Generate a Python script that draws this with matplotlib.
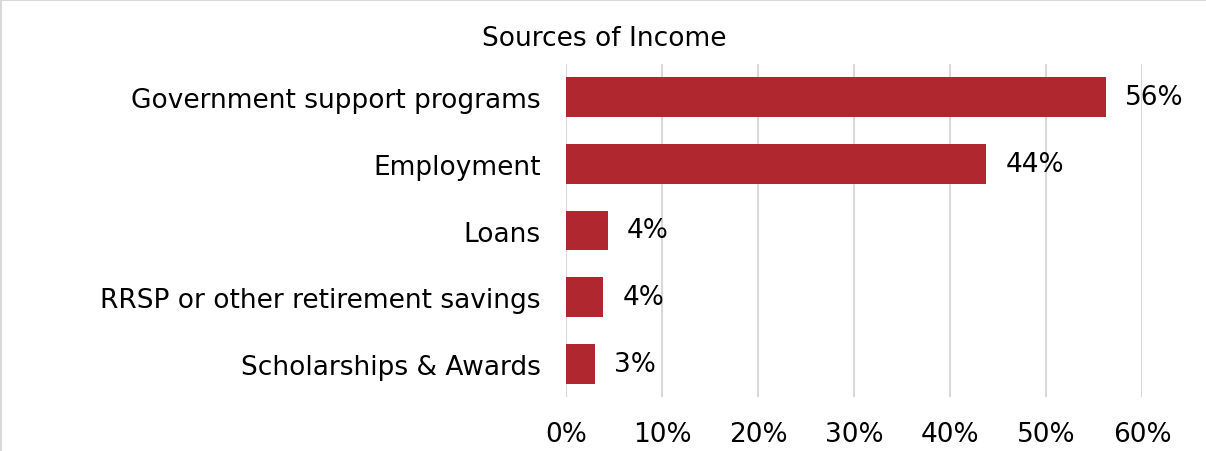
import matplotlib.pyplot as plt
from matplotlib.lines import Line2D

plt.rcParams['font.family'] = ['DejaVu Sans']

categories = ["Government support programs", "Employment", "Loans",
              "RRSP or other retirement savings", "Scholarships & Awards"]
shares = [56.3, 43.8, 4.4, 3.9, 3.0]
x_ticks = [0, 10, 20, 30, 40, 50, 60]

bar_color = "#b0272f"
grid_color = "#d9d9d9"
fs = 19

fig = plt.figure(figsize=(12.06, 4.52), dpi=100)
ax = fig.add_axes([566 / 1206, 1 - 398 / 452, 576 / 1206, 333 / 452])

pos = list(range(len(categories)))
ax.barh(pos, shares, height=0.6, color=bar_color, zorder=3)
for p, v in zip(pos, shares):
    ax.annotate(f"{v:.0f}%", (v, p), xytext=(13.5, 0), textcoords="offset points",
                va="center", ha="left", fontsize=fs, color="black")

ax.set_yticks(pos)
ax.set_yticklabels(categories, fontsize=fs)
ax.set_ylim(len(categories) - 0.5, -0.5)
ax.set_xlim(0, 60)
ax.set_xticks(x_ticks)
ax.set_xticklabels([f"{t}%" for t in x_ticks], fontsize=fs)
ax.tick_params(axis="y", length=0, pad=18)
ax.tick_params(axis="x", length=0, pad=17)
ax.grid(axis="x", color=grid_color, linewidth=1.5, zorder=0)
for s in ax.spines.values():
    s.set_visible(False)

fig.text(604 / 1206, 1 - 39 / 452, "Sources of Income", ha="center", va="center", fontsize=fs)

# thin frame along the top and left edges
fig.add_artist(Line2D([0.001, 0.001], [0, 0.998], transform=fig.transFigure,
                      color=grid_color, linewidth=1.5))
fig.add_artist(Line2D([0, 1], [0.997, 0.997], transform=fig.transFigure,
                      color=grid_color, linewidth=1.5))

fig.savefig("out.png", dpi=100)
